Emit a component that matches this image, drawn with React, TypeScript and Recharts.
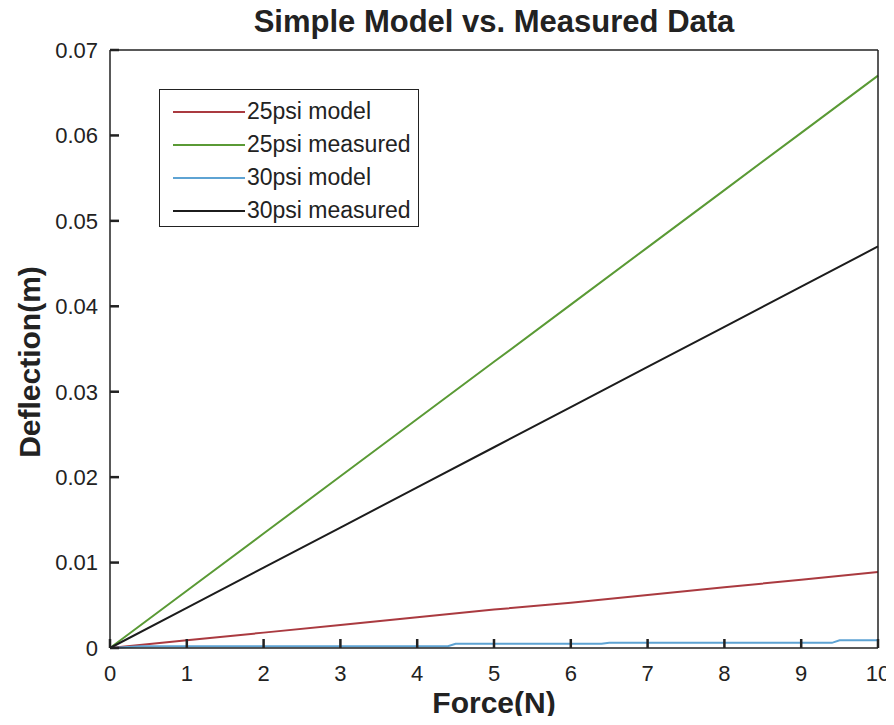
import { LineChart, Line, XAxis, YAxis, Legend } from "recharts";

// readings taken off the reference figure
const forceTicks = [0, 1, 2, 3, 4, 5, 6, 7, 8, 9, 10];
const deflectionTicks = [0, 0.01, 0.02, 0.03, 0.04, 0.05, 0.06, 0.07];

const force = [0, 1, 2, 3, 4, 5, 6, 7, 8, 9, 10];
const model25 = [0, 0.0009, 0.0018, 0.0027, 0.0036, 0.0045, 0.0053, 0.0062, 0.0071, 0.008, 0.0089];
const measured25 = [0, 0.0067, 0.0134, 0.0201, 0.0268, 0.0335, 0.0402, 0.0469, 0.0536, 0.0603, 0.067];
const measured30 = [0, 0.0047, 0.0094, 0.0141, 0.0188, 0.0235, 0.0282, 0.0329, 0.0376, 0.0423, 0.047];

const model30Force = [0, 0.4, 4.4, 4.5, 6.4, 6.5, 9.4, 9.5, 10];
const model30 = [0, 0.0002, 0.0002, 0.0005, 0.0005, 0.0006, 0.0006, 0.0009, 0.0009];

const toRows = (xs: number[], ys: number[]) => xs.map((f, i) => ({ force: f, value: ys[i] }));

const series = [
  { name: "25psi model", color: "#aa3a40", data: toRows(force, model25) },
  { name: "25psi measured", color: "#5a9a35", data: toRows(force, measured25) },
  { name: "30psi model", color: "#5ea3d3", data: toRows(model30Force, model30) },
  { name: "30psi measured", color: "#1c1c1c", data: toRows(force, measured30) },
];

const FONT = "'Liberation Sans', Arial, sans-serif";
const INK = "#222";
const TICK_LEN = 9;
const X_MARGIN = 17;
const Y_MARGIN = 12;

// MATLAB-style ticks point into the plot box
function BottomTick(props: any) {
  const x = Number(props.x);
  const y = Number(props.y);
  return (
    <g>
      <rect x={x - 1.25} y={y - X_MARGIN - TICK_LEN} width={2.5} height={TICK_LEN} fill={INK} />
      <text x={x} y={y} dy="0.71em" textAnchor="middle" fontSize={22} fill={INK} fontFamily={FONT}>
        {props.payload.value}
      </text>
    </g>
  );
}

function TopTick(props: any) {
  const x = Number(props.x);
  const y = Number(props.y);
  return <rect x={x - 1.25} y={y} width={2.5} height={TICK_LEN} fill={INK} />;
}

function LeftTick(props: any) {
  const x = Number(props.x);
  const y = Number(props.y);
  return (
    <g>
      <rect x={x + Y_MARGIN} y={y - 1.25} width={TICK_LEN} height={2.5} fill={INK} />
      <text x={x} y={y} dy="0.355em" textAnchor="end" fontSize={22} fill={INK} fontFamily={FONT}>
        {props.payload.value}
      </text>
    </g>
  );
}

function RightTick(props: any) {
  const x = Number(props.x);
  const y = Number(props.y);
  return <rect x={x - TICK_LEN} y={y - 1.25} width={TICK_LEN} height={2.5} fill={INK} />;
}

function LegendBox() {
  return (
    <div
      style={{
        width: 260,
        height: 138,
        border: `1.5px solid ${INK}`,
        background: "#fff",
        boxSizing: "border-box",
        paddingTop: 5,
        fontFamily: FONT,
        fontSize: 23,
        color: INK,
      }}
    >
      {series.map((s) => (
        <div key={s.name} style={{ display: "flex", alignItems: "center", height: 33 }}>
          <div style={{ marginLeft: 13, width: 72, height: 2, background: s.color }} />
          <span style={{ marginLeft: 2 }}>{s.name}</span>
        </div>
      ))}
    </div>
  );
}

export default function App() {
  return (
    <div style={{ position: "relative", width: 886, height: 716, marginBottom: -8, background: "#fff" }}>
      <div
        style={{
          position: "absolute",
          left: 0,
          width: 972,
          top: -2,
          textAlign: "center",
          fontFamily: FONT,
          fontWeight: "bold",
          fontSize: 31,
          lineHeight: "31px",
          color: INK,
        }}
      >
        Simple Model vs. Measured Data
      </div>
      <div
        style={{
          position: "absolute",
          left: 22,
          top: 354,
          transform: "translate(-50%, -50%) rotate(-90deg)",
          whiteSpace: "nowrap",
          fontFamily: FONT,
          fontWeight: "bold",
          fontSize: 30,
          lineHeight: "30px",
          color: INK,
        }}
      >
        Deflection(m)
      </div>
      <LineChart width={886} height={716} margin={{ top: 41, right: 15, bottom: 0, left: 0 }}>
        <XAxis
          xAxisId="bottom"
          dataKey="force"
          type="number"
          domain={[0, 10]}
          ticks={forceTicks}
          height={76}
          tickSize={0}
          tickMargin={X_MARGIN}
          stroke={INK}
          strokeWidth={1.5}
          tick={<BottomTick />}
          label={{
            value: "Force(N)",
            position: "insideBottom",
            offset: 11,
            style: { fontSize: 30, fontWeight: "bold", fill: INK, fontFamily: FONT },
          }}
        />
        <XAxis
          xAxisId="top"
          orientation="top"
          dataKey="force"
          type="number"
          domain={[0, 10]}
          ticks={forceTicks}
          height={1}
          tickSize={0}
          tickMargin={0}
          stroke={INK}
          strokeWidth={1.5}
          tick={<TopTick />}
        />
        <YAxis
          yAxisId="left"
          type="number"
          domain={[0, 0.07]}
          ticks={deflectionTicks}
          width={102}
          tickSize={0}
          tickMargin={Y_MARGIN}
          stroke={INK}
          strokeWidth={1.5}
          tick={<LeftTick />}
        />
        <YAxis
          yAxisId="right"
          orientation="right"
          type="number"
          domain={[0, 0.07]}
          ticks={deflectionTicks}
          width={1}
          tickSize={0}
          tickMargin={0}
          stroke={INK}
          strokeWidth={1.5}
          tick={<RightTick />}
        />
        <Legend
          layout="vertical"
          align="center"
          verticalAlign="middle"
          wrapperStyle={{ left: 151, top: 81, width: 260 }}
          content={() => <LegendBox />}
        />
        {series.map((s) => (
          <Line
            key={s.name}
            xAxisId="bottom"
            yAxisId="left"
            data={s.data}
            dataKey="value"
            name={s.name}
            type="linear"
            stroke={s.color}
            strokeWidth={2}
            dot={false}
            activeDot={false}
            isAnimationActive={false}
          />
        ))}
      </LineChart>
    </div>
  );
}
